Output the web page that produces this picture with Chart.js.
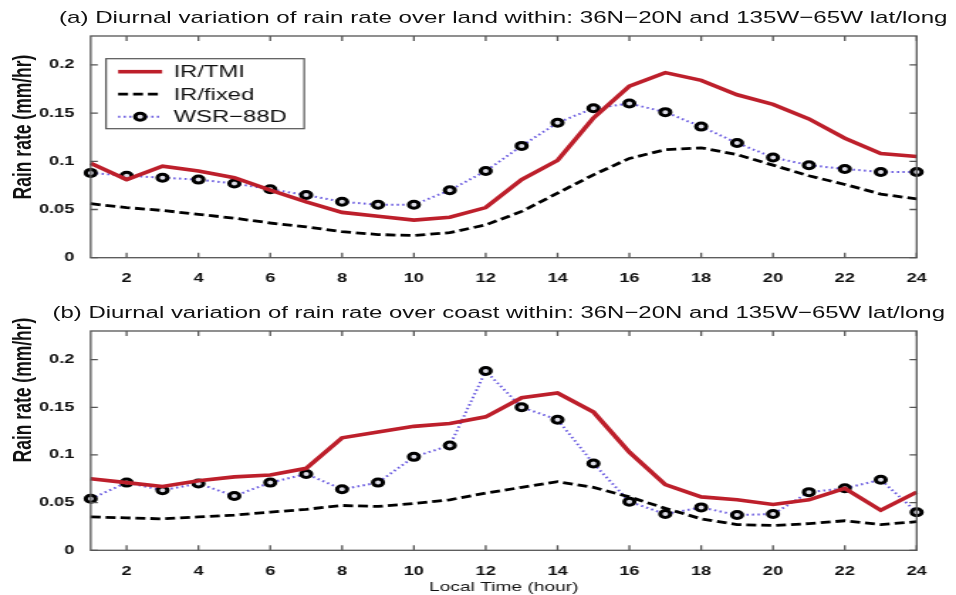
<!DOCTYPE html>
<html>
<head>
<meta charset="utf-8">
<script src="https://cdn.jsdelivr.net/npm/chart.js@4.4.1/dist/chart.umd.min.js"></script>
<style>
  html, body { margin: 0; padding: 0; background: #fff; }
  body { width: 956px; height: 595px; overflow: hidden; position: relative; }
  /* the source figure is stretched sideways, so the whole drawing is too */
  #wrap { position: absolute; left: 0; top: 0; width: 673px; height: 595px;
          transform: scaleX(1.4205); transform-origin: 0 0;
          font-family: "Liberation Sans", Arial, sans-serif; color: #111; }
  .panel { position: absolute; left: 0; width: 673px; }
  #pa { top: 0; height: 297px; }
  #pb { top: 297px; height: 298px; }
  .title { position: absolute; white-space: nowrap; font-size: 17px; line-height: 20px; }
  .ylab { position: absolute; white-space: nowrap; font-size: 17.5px; font-weight: bold;
          transform: translate(-50%, -50%) rotate(-90deg); }
</style>
</head>
<body>
<div id="wrap">
  <div class="panel" id="pa"><canvas id="chartLand"></canvas></div>
  <div class="panel" id="pb"><canvas id="chartCoast"></canvas></div>
  <div class="title" style="top:8px; left:41.5px">(a) Diurnal variation of rain rate over land within: 36N&minus;20N and 135W&minus;65W lat/long</div>
  <div class="title" style="top:303px; left:37px; font-size:16.85px">(b) Diurnal variation of rain rate over coast within: 36N&minus;20N and 135W&minus;65W lat/long</div>
  <div class="ylab" style="left:16px; top:127px">Rain rate (mm/hr)</div>
  <div class="ylab" style="left:16px; top:390px">Rain rate (mm/hr)</div>
</div>
<script>
'use strict';

// local hour of day
const hours = [1, 2, 3, 4, 5, 6, 7, 8, 9, 10, 11, 12, 13, 14, 15, 16, 17, 18, 19, 20, 21, 22, 23, 24];
const seriesNames = ['IR/TMI', 'IR/fixed', 'WSR\u221288D'];

// (a) land
const landTmi   = [0.098, 0.081, 0.095, 0.090, 0.083, 0.070, 0.058, 0.047, 0.043, 0.039, 0.042, 0.052,
                   0.081, 0.101, 0.145, 0.178, 0.192, 0.184, 0.169, 0.159, 0.144, 0.124, 0.108, 0.105];
const landFixed = [0.056, 0.052, 0.049, 0.045, 0.041, 0.036, 0.032, 0.027, 0.024, 0.023, 0.026, 0.034,
                   0.048, 0.067, 0.086, 0.103, 0.112, 0.114, 0.107, 0.096, 0.085, 0.076, 0.066, 0.061];
const landWsr   = [0.088, 0.085, 0.083, 0.081, 0.077, 0.071, 0.065, 0.058, 0.055, 0.055, 0.070, 0.090,
                   0.116, 0.140, 0.155, 0.160, 0.151, 0.136, 0.119, 0.104, 0.096, 0.092, 0.089, 0.089];

// (b) coast
const coastTmi   = [0.075, 0.071, 0.067, 0.073, 0.077, 0.079, 0.086, 0.118, 0.124, 0.130, 0.133, 0.140,
                    0.160, 0.165, 0.145, 0.103, 0.069, 0.056, 0.053, 0.048, 0.053, 0.065, 0.042, 0.061];
const coastFixed = [0.035, 0.034, 0.033, 0.035, 0.037, 0.040, 0.043, 0.047, 0.046, 0.049, 0.053, 0.060,
                    0.066, 0.072, 0.066, 0.056, 0.044, 0.033, 0.027, 0.026, 0.028, 0.031, 0.027, 0.030];
const coastWsr   = [0.054, 0.071, 0.063, 0.070, 0.057, 0.071, 0.080, 0.064, 0.071, 0.098, 0.110, 0.188,
                    0.150, 0.137, 0.091, 0.051, 0.038, 0.045, 0.037, 0.038, 0.061, 0.065, 0.074, 0.040];

const xTicks = [2, 4, 6, 8, 10, 12, 14, 16, 18, 20, 22, 24];
const xTickLabels = ['2', '4', '6', '8', '10', '12', '14', '16', '18', '20', '22', '24'];
const yTicks = [0, 0.05, 0.1, 0.15, 0.2];
const yTickLabels = ['0', '0.05', '0.1', '0.15', '0.2'];

const FONT = '"Liberation Sans", Arial, sans-serif';
const AXIS_COLOR = '#555';

// box round the plot, with matlab-style inward ticks on all four sides
const framePlugin = {
  id: 'frame',
  afterDatasetsDraw(chart) {
    const { ctx, chartArea: a, scales } = chart;
    ctx.save();
    ctx.strokeStyle = AXIS_COLOR;
    ctx.lineWidth = 1.3;
    ctx.strokeRect(a.left, a.top, a.right - a.left, a.bottom - a.top);
    ctx.beginPath();
    scales.x.ticks.forEach(t => {
      const px = scales.x.getPixelForValue(t.value);
      ctx.moveTo(px, a.bottom); ctx.lineTo(px, a.bottom - 5);
      ctx.moveTo(px, a.top); ctx.lineTo(px, a.top + 5);
    });
    scales.y.ticks.forEach(t => {
      const py = scales.y.getPixelForValue(t.value);
      ctx.moveTo(a.left, py); ctx.lineTo(a.left + 5, py);
      ctx.moveTo(a.right, py); ctx.lineTo(a.right - 5, py);
    });
    ctx.stroke();
    ctx.restore();
  }
};

// legend box in the upper left of panel (a)
const legendPlugin = {
  id: 'boxLegend',
  afterDraw(chart, args, opts) {
    if (!opts.show) return;
    const { ctx, chartArea: a } = chart;
    const left = a.left + 10.8, top = a.top + 22.7, w = 139.5, h = 70;
    const rows = [13, 35.5, 58];
    ctx.save();
    ctx.fillStyle = '#fff';
    ctx.fillRect(left, top, w, h);
    ctx.strokeStyle = AXIS_COLOR;
    ctx.lineWidth = 1.2;
    ctx.strokeRect(left, top, w, h);
    chart.data.datasets.forEach((ds, i) => {
      const y = top + rows[i];
      const x0 = left + 8.5, x1 = left + 39.5;
      ctx.strokeStyle = ds.borderColor;
      ctx.lineWidth = ds.borderWidth;
      ctx.setLineDash(ds.borderDash || []);
      ctx.beginPath(); ctx.moveTo(x0, y); ctx.lineTo(x1, y); ctx.stroke();
      ctx.setLineDash([]);
      if (ds.pointRadius) {
        ctx.beginPath();
        ctx.arc((x0 + x1) / 2, y, ds.pointRadius, 0, Math.PI * 2);
        ctx.fillStyle = ds.pointBackgroundColor;
        ctx.fill();
        ctx.lineWidth = ds.pointBorderWidth;
        ctx.strokeStyle = ds.pointBorderColor;
        ctx.stroke();
      }
      ctx.fillStyle = '#111';
      ctx.font = '16.8px ' + FONT;
      ctx.textBaseline = 'middle';
      ctx.fillText(ds.label, left + 47.5, y + 1);
    });
    ctx.restore();
  }
};

function toPoints(values) {
  return hours.map((h, i) => ({ x: h, y: values[i] }));
}

function makeChart(id, tmi, fixed, wsr, layout) {
  return new Chart(document.getElementById(id), {
    type: 'line',
    data: {
      datasets: [
        { label: seriesNames[0], data: toPoints(tmi), borderColor: '#bd1f2b', borderWidth: 3.6,
          pointRadius: 0, tension: 0, clip: false },
        { label: seriesNames[1], data: toPoints(fixed), borderColor: '#000', borderWidth: 2.8,
          borderDash: [7, 3.5], pointRadius: 0, tension: 0, clip: false },
        { label: seriesNames[2], data: toPoints(wsr), borderColor: '#6a5be0', borderWidth: 2,
          borderDash: [1.5, 2.4], pointRadius: 3.5, pointBorderWidth: 3,
          pointBorderColor: '#000', pointBackgroundColor: '#dcdce6', tension: 0, clip: false }
      ]
    },
    options: {
      responsive: true,
      maintainAspectRatio: false,
      animation: false,
      events: [],
      layout: { padding: { top: layout.top, right: 27.7, left: 0, bottom: 0 } },
      plugins: {
        legend: { display: false },
        tooltip: { enabled: false },
        boxLegend: { show: layout.legend }
      },
      scales: {
        x: {
          type: 'linear', min: 1, max: 24,
          grid: { display: false }, border: { display: false },
          afterBuildTicks: s => { s.ticks = xTicks.map(v => ({ value: v })); },
          afterFit: s => { s.height = layout.xh; },
          ticks: { padding: 5, autoSkip: false, maxRotation: 0, color: '#111',
                   font: { family: FONT, size: 12.8, weight: 'bold' },
                   callback: (v, i) => xTickLabels[i] },
          title: { display: !!layout.xTitle, text: layout.xTitle || '', color: '#111',
                   padding: { top: 0, bottom: 0 }, font: { family: FONT, size: 13.5 } }
        },
        y: {
          min: 0, max: 0.23,
          grid: { display: false }, border: { display: false },
          afterBuildTicks: s => { s.ticks = yTicks.map(v => ({ value: v })); },
          afterFit: s => { s.width = 63.85; },
          ticks: { padding: 3.5, color: '#111',
                   font: { family: FONT, size: 12.8, weight: 'bold' },
                   callback: (v, i) => yTickLabels[i] }
        }
      }
    },
    plugins: [framePlugin, legendPlugin]
  });
}

makeChart('chartLand', landTmi, landFixed, landWsr, { top: 36, xh: 39.3, legend: true });
makeChart('chartCoast', coastTmi, coastFixed, coastWsr, { top: 34, xh: 44.7, legend: false, xTitle: 'Local Time (hour)' });
</script>
</body>
</html>
